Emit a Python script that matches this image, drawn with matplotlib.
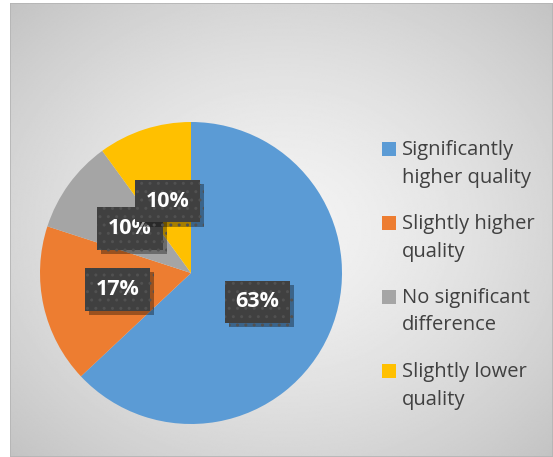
import numpy as np
import matplotlib.pyplot as plt
import matplotlib.patheffects as pe
from matplotlib.patches import Rectangle

labels = ['Significantly\nhigher quality', 'Slightly higher\nquality',
          'No significant\ndifference', 'Slightly lower\nquality']
shares = [63, 17, 10, 10]
colors = ['#5B9BD5', '#ED7D31', '#A5A5A5', '#FFC000']

W, H = 553, 457
plt.rcParams['hatch.linewidth'] = 1.0
fig = plt.figure(figsize=(W / 100, H / 100), dpi=100)

# radial grey background behind the chart
bg = fig.add_axes([10 / W, 0, (W - 10) / W, (H - 3) / H], zorder=0)
yy, xx = np.mgrid[-1:1:300j, -1:1:360j]
rr = np.sqrt(xx ** 2 + yy ** 2) / np.sqrt(2)
shade = 0.955 - 0.19 * np.clip(rr, 0, 1) ** 1.4
bg.imshow(shade, cmap='gray', vmin=0, vmax=1, aspect='auto',
          extent=[0, 1, 0, 1], interpolation='bilinear')
bg.add_patch(Rectangle((0, 0), 1, 1, transform=bg.transAxes, fill=False,
                       edgecolor='#b4b4b4', lw=1.2))
bg.set_axis_off()

ax = fig.add_axes([(191 - 151) / W, (H - 273 - 151) / H, 302 / W, 302 / H], zorder=1)
wedges, texts, autotexts = ax.pie(shares, colors=colors, startangle=90,
                                  counterclock=False, autopct='%.0f%%',
                                  pctdistance=0.5, radius=1,
                                  wedgeprops=dict(linewidth=0))
ax.set_xlim(-1, 1)
ax.set_ylim(-1, 1)
ax.set_aspect('equal')

# dark dotted label boxes with a drop shadow
for t in autotexts:
    if t.get_text() == '63%':
        x, y = t.get_position()
        t.set_position((x * 0.96, y * 0.96))
    t.set_fontsize(15.5)
    t.set_fontweight('bold')
    t.set_family('Open Sans')
    t.set_color('white')
    t.set_zorder(4)
    t.set_bbox(dict(boxstyle='square,pad=0.5', facecolor='#404040',
                    edgecolor='#515151', hatch='..', linewidth=0))
    t.get_bbox_patch().set_path_effects([
        pe.SimplePatchShadow(offset=(3, -3), shadow_rgbFace='black', alpha=0.35),
        pe.Normal()])

# legend: square markers aligned with the first text line
leg_top = 142
for i, (lab, col) in enumerate(zip(labels, colors)):
    ytop = leg_top + i * 74
    fig.patches.append(Rectangle((382 / W, 1 - (ytop + 14) / H), 14 / W, 14 / H,
                                 transform=fig.transFigure, facecolor=col,
                                 edgecolor='none', zorder=5))
    fig.text(402 / W, 1 - (ytop - 2) / H, lab, ha='left', va='top',
             fontsize=14.5, family='Open Sans', color='#404040',
             linespacing=1.5, zorder=5)

fig.savefig('out.png', dpi=100)
